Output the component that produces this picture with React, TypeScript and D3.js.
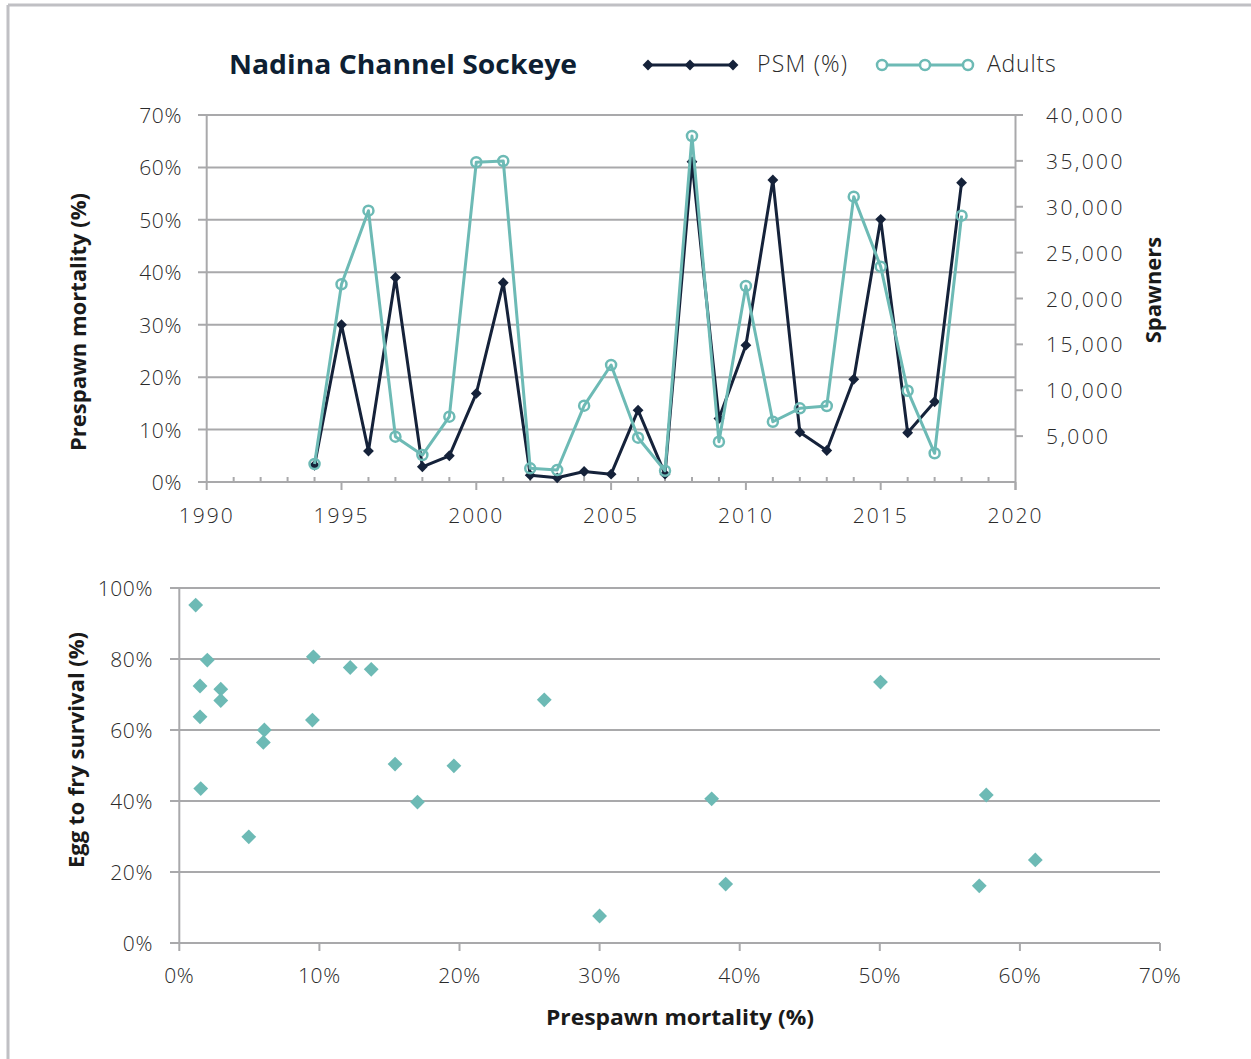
import React from "react";
import * as d3 from "d3";

const years = [1994,1995,1996,1997,1998,1999,2000,2001,2002,2003,2004,2005,2006,2007,2008,2009,2010,2011,2012,2013,2014,2015,2016,2017,2018];
const psm = [3.2,30,5.9,39,2.9,5,16.9,38,1.3,0.8,2,1.5,13.7,1.5,61.1,12.1,26.1,57.6,9.5,6,19.6,50.1,9.4,15.3,57.1];
const adults = [1960,21550,29570,4940,2940,7120,34850,34990,1490,1310,8320,12750,4830,1230,37710,4390,21360,6570,8030,8280,31100,23470,9950,3130,29030];

const scatterPSM = [1.17,2.0,1.48,2.96,2.96,1.48,9.57,12.2,13.7,9.5,6.07,6.0,15.4,19.6,1.53,17.0,4.96,26.05,50.05,38.0,57.6,61.1,39.0,57.1,30.0];
const scatterSurvival = [95.2,79.7,72.4,71.5,68.3,63.7,80.6,77.6,77.1,62.8,60.0,56.5,50.4,49.9,43.5,39.7,29.9,68.5,73.5,40.6,41.7,23.4,16.6,16.1,7.6];

const leftTicks = [0,10,20,30,40,50,60,70];
const rightTicks = [5000,10000,15000,20000,25000,30000,35000,40000];
const yearTicks = [1990,1995,2000,2005,2010,2015,2020];
const scatterXTicks = [0,10,20,30,40,50,60,70];
const scatterYTicks = [0,20,40,60,80,100];

const NAVY = "#15223a";
const TEAL = "#6dbab5";
const GRID = "#a9a9ab";
const TXT = "#2a2a2a";
const FONT = "'Open Sans', Lato, sans-serif";

export default function App() {
  const x = d3.scaleLinear().domain([1990, 2020]).range([206.7, 1015.5]);
  const yL = d3.scaleLinear().domain([0, 70]).range([482, 115]);
  const yR = d3.scaleLinear().domain([0, 40000]).range([482, 115]);
  const minorYears = d3.range(1990, 2021).filter((v) => v % 5 !== 0);

  const psmLine = d3.line<number>().x((_, i) => x(years[i])).y((d) => yL(d));
  const adultLine = d3.line<number>().x((_, i) => x(years[i])).y((d) => yR(d));

  const sx = d3.scaleLinear().domain([0, 70]).range([179.3, 1160]);
  const sy = d3.scaleLinear().domain([0, 100]).range([943, 588]);

  const diamondSmall = d3.symbol().type(d3.symbolDiamond2).size(75)() as string;
  const diamondBig = d3.symbol().type(d3.symbolDiamond2).size(140)() as string;

  const fmt = d3.format(",");

  return (
    <svg width={1251} height={1059} style={{ position: "absolute", left: 0, top: 0, background: "#fff" }} fontFamily={FONT}>
      <rect x={0} y={0} width={1251} height={1059} fill="#fff" />
      <line x1={8} y1={5} x2={1251} y2={5} stroke="#c0c0c4" strokeWidth={3} />
      <line x1={8} y1={5} x2={8} y2={1059} stroke="#c0c0c4" strokeWidth={3} />

      {/* Title & legend */}
      <text x={403} y={74} textAnchor="middle" fontSize={27} fontWeight={700} fill="#0e1f33" textLength={348} lengthAdjust="spacingAndGlyphs">Nadina Channel Sockeye</text>
      <line x1={647} y1={65} x2={734} y2={65} stroke={NAVY} strokeWidth={3} />
      {[648, 690, 733].map((cx) => (
        <path key={cx} d={diamondSmall} transform={`translate(${cx},65)`} fill={NAVY} />
      ))}
      <text x={757} y={72} fontSize={23} fontWeight={300} letterSpacing={1.2} fill={TXT}>PSM (%)</text>
      <line x1={882} y1={65} x2={968} y2={65} stroke={TEAL} strokeWidth={3} />
      {[882, 925, 968].map((cx) => (
        <circle key={cx} cx={cx} cy={65} r={5} fill="#fff" stroke={TEAL} strokeWidth={2.5} />
      ))}
      <text x={987} y={72} fontSize={23} fontWeight={300} letterSpacing={0.8} fill={TXT}>Adults</text>

      {/* Top chart grid */}
      {leftTicks.map((t) => (
        <g key={t}>
          <line x1={198} x2={t === 70 ? 1023 : 1015} y1={yL(t)} y2={yL(t)} stroke={GRID} strokeWidth={2} />
          <text x={182} y={yL(t) + 8} textAnchor="end" fontSize={21} fontWeight={300} letterSpacing={0.6} fill={TXT}>{t}%</text>
        </g>
      ))}
      <line x1={206.7} x2={206.7} y1={115} y2={482} stroke={GRID} strokeWidth={2} />
      <line x1={1015.5} x2={1015.5} y1={115} y2={490} stroke={GRID} strokeWidth={2} />
      {rightTicks.map((t) => (
        <g key={t}>
          <line x1={1015.5} x2={1023} y1={yR(t)} y2={yR(t)} stroke={GRID} strokeWidth={2} />
          <text x={1046} y={yR(t) + 8} fontSize={21} fontWeight={300} letterSpacing={2.4} fill={TXT}>{fmt(t)}</text>
        </g>
      ))}
      {yearTicks.map((t) => (
        <g key={t}>
          <line x1={x(t)} x2={x(t)} y1={482} y2={490} stroke={GRID} strokeWidth={2} />
          <text x={x(t)} y={523} textAnchor="middle" fontSize={21} fontWeight={300} letterSpacing={2} fill={TXT}>{t}</text>
        </g>
      ))}
      {minorYears.map((t) => (
        <line key={t} x1={x(t)} x2={x(t)} y1={477} y2={482} stroke={GRID} strokeWidth={2} />
      ))}

      {/* Series */}
      <path d={psmLine(psm) as string} fill="none" stroke={NAVY} strokeWidth={3} strokeLinejoin="round" />
      {psm.map((v, i) => (
        <path key={i} d={diamondSmall} transform={`translate(${x(years[i])},${yL(v)})`} fill={NAVY} />
      ))}
      <path d={adultLine(adults) as string} fill="none" stroke={TEAL} strokeWidth={3} strokeLinejoin="round" />
      {adults.map((v, i) => (
        <circle key={i} cx={x(years[i])} cy={yR(v)} r={5} fill="none" stroke={TEAL} strokeWidth={2.5} />
      ))}

      <text transform="translate(86,322) rotate(-90)" textAnchor="middle" fontSize={22} fontWeight={700} fill="#1a1a1a">Prespawn mortality (%)</text>
      <text transform="translate(1161,290) rotate(-90)" textAnchor="middle" fontSize={22} fontWeight={700} fill="#1a1a1a">Spawners</text>

      {/* Bottom scatter */}
      {scatterYTicks.map((t) => (
        <g key={t}>
          <line x1={170} x2={1160} y1={sy(t)} y2={sy(t)} stroke={GRID} strokeWidth={2} />
          <text x={153} y={sy(t) + 8} textAnchor="end" fontSize={21} fontWeight={300} letterSpacing={0.6} fill={TXT}>{t}%</text>
        </g>
      ))}
      <line x1={179.3} x2={179.3} y1={588} y2={943} stroke={GRID} strokeWidth={2} />
      {scatterXTicks.map((t) => (
        <g key={t}>
          <line x1={sx(t)} x2={sx(t)} y1={943} y2={951} stroke={GRID} strokeWidth={2} />
          <text x={sx(t)} y={983} textAnchor="middle" fontSize={21} fontWeight={300} letterSpacing={0.6} fill={TXT}>{t}%</text>
        </g>
      ))}
      {scatterPSM.map((v, i) => (
        <path key={i} d={diamondBig} transform={`translate(${sx(v)},${sy(scatterSurvival[i])})`} fill={TEAL} />
      ))}
      <text transform="translate(84,750) rotate(-90)" textAnchor="middle" fontSize={22} fontWeight={700} fill="#1a1a1a">Egg to fry survival (%)</text>
      <text x={680} y={1025} textAnchor="middle" fontSize={22} fontWeight={700} fill="#1a1a1a" textLength={268} lengthAdjust="spacingAndGlyphs">Prespawn mortality (%)</text>
    </svg>
  );
}
